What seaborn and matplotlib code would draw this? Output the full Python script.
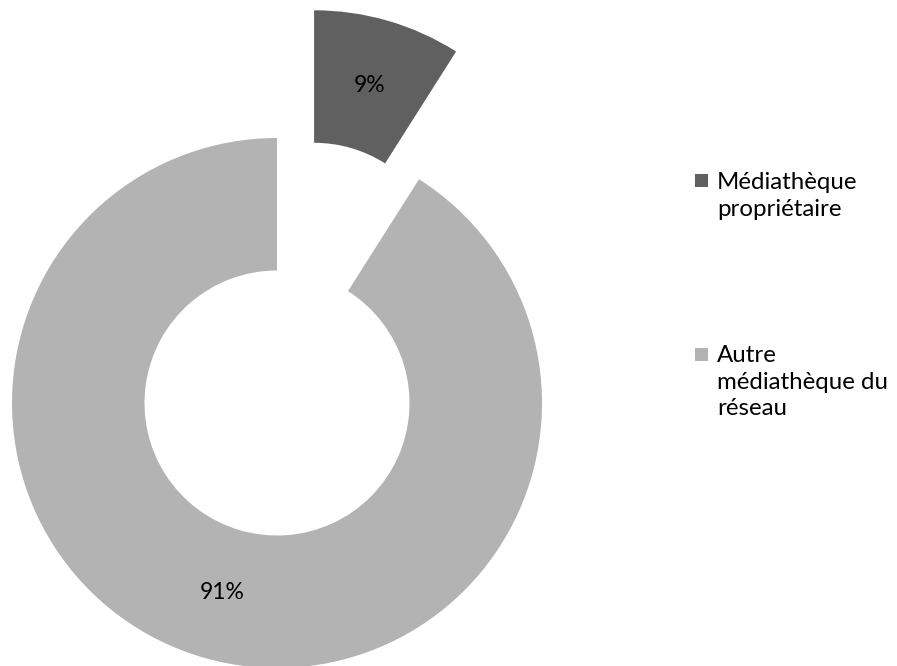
import matplotlib
matplotlib.use("Agg")
import matplotlib.pyplot as plt
import seaborn as sns
from matplotlib.patches import Rectangle

categories = ["Médiathèque\npropriétaire", "Autre\nmédiathèque du\nréseau"]
values = [9, 91]
colors = ["#606060", "#b3b3b3"]

sns.set_theme(style="white")
plt.rcParams['font.family'] = ['Lato', 'DejaVu Sans']

W, H = 897, 666
fig = plt.figure(figsize=(W / 100, H / 100), dpi=100)
ax = fig.add_axes([0, 0, 1, 1])

R = 265
wedges, texts, autotexts = ax.pie(
    values, colors=colors, startangle=90, counterclock=False,
    center=(277, H - 403), radius=R, explode=[133, 0],
    wedgeprops=dict(width=R * 0.5, linewidth=0),
    autopct=lambda p: f"{p:.0f}%", pctdistance=0.745,
    textprops=dict(fontsize=16.5, color="#000000"),
    frame=True,
)
ax.set_xlim(0, W)
ax.set_ylim(0, H)
ax.set_aspect('equal')
ax.axis('off')

# legend
sq_y = [180, 354]
txt_top = [172, 345]
for lab, col, sy, ty in zip(categories, colors, sq_y, txt_top):
    ax.add_patch(Rectangle((695, H - sy - 6.5), 13, 13, facecolor=col, edgecolor='none'))
    ax.text(717, H - ty, lab, fontsize=17.3, va='top', ha='left', color="#000000",
            linespacing=1.33)

fig.savefig("out.png", dpi=100)
